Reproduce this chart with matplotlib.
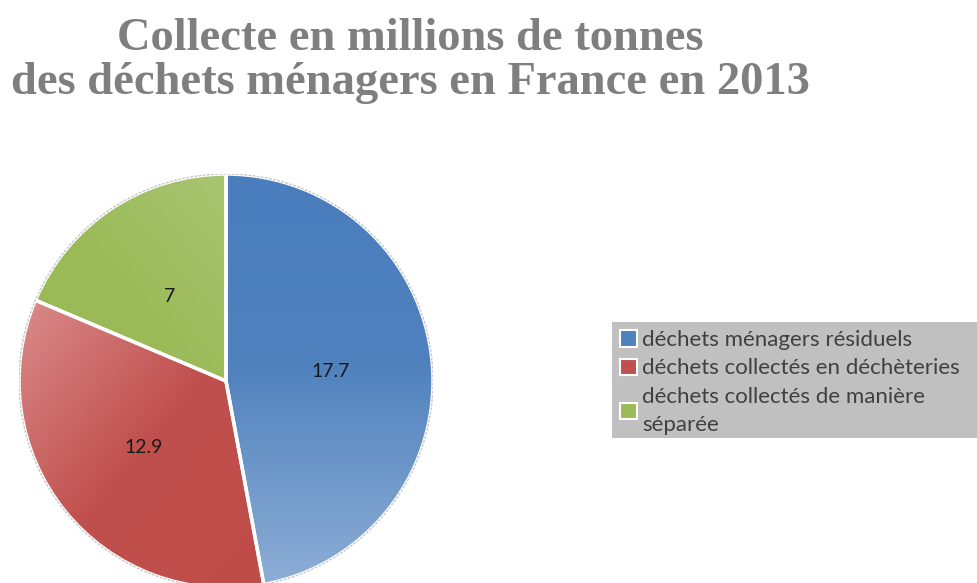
import numpy as np
import matplotlib
matplotlib.use('Agg')
import matplotlib.pyplot as plt
from matplotlib.patches import Rectangle
from matplotlib.colors import LinearSegmentedColormap

# data
categories = ['déchets ménagers résiduels',
              'déchets collectés en déchèteries',
              'déchets collectés de manière\nséparée']
values = [17.7, 12.9, 7]
title = 'Collecte en millions de tonnes\ndes déchets ménagers en France en 2013'

colors = ['#4f81bd', '#c0504d', '#9bbb59']
# (start colour, mid colour, end colour, gradient direction in degrees)
gradients = [('#4a7dbd', '#4f81bd', '#8eaed6', -90),
             ('#d98a8a', '#c0504d', '#bf4b48', -40),
             ('#97b854', '#9bbb59', '#afc97c', 40)]
label_dist = [0.51, 0.51, 0.49]

W, H = 978, 583
fig = plt.figure(figsize=(W / 100, H / 100), dpi=100)
fig.patch.set_facecolor('white')

fig.text(410 / W, 1 - 61 / H, title, ha='center', va='center',
         fontsize=33.5, fontweight='bold', color='#7f7f7f',
         family='Liberation Serif', linespacing=1.08)

# pie axes, centre (226, 380) px, radius 207 px
cx, cy, r = 226, 381, 207
ax = fig.add_axes([(cx - r) / W, (H - cy - r) / H, 2 * r / W, 2 * r / H])
wedges, texts, autotexts = ax.pie(values, colors=colors, startangle=90,
                                  counterclock=False, autopct='%1.1f',
                                  pctdistance=0.5,
                                  wedgeprops=dict(edgecolor='white',
                                                  linewidth=2.5))
ax.set_xlim(-1, 1)
ax.set_ylim(-1, 1)
ax.set_aspect('equal')

# gradient fill clipped to each wedge
yy, xx = np.mgrid[-1:1:300j, -1:1:300j]
for w, (c0, cm, c1, ang) in zip(wedges, gradients):
    a = np.deg2rad(ang)
    t = (xx * np.cos(a) + yy * np.sin(a) + 1) / 2
    cmap = LinearSegmentedColormap.from_list('g', [(0, c0), (0.45, cm),
                                                   (1, c1)])
    im = ax.imshow(t, cmap=cmap, extent=(-1, 1, -1, 1), origin='lower',
                   vmin=0, vmax=1, zorder=2)
    im.set_clip_path(w)

for w in wedges:
    w.set_facecolor('none')
    w.set_zorder(3)

for t, v, w, d in zip(autotexts, values, wedges, label_dist):
    mid = np.deg2rad((w.theta1 + w.theta2) / 2)
    t.set_text(f'{v:g}')
    t.set_position((d * np.cos(mid), d * np.sin(mid)))
    t.set_fontsize(14)
    t.set_color('#1a1a1a')
    t.set_family('Lato')
    t.set_zorder(5)

# outer thin dashed ring
ring = plt.Circle((0, 0), 1.0, fill=False, edgecolor='#c8c8c8',
                  linewidth=1, linestyle=(0, (2, 1)), zorder=4)
ax.add_patch(ring)
ax.set_axis_off()

# legend with grey background
fig.patches.append(Rectangle((612 / W, 1 - 438 / H), (W - 612) / W,
                             116 / H, transform=fig.transFigure,
                             facecolor='#c0c0c0', edgecolor='none'))
handles = [Rectangle((0, 0), 1, 1, facecolor=c, edgecolor='white', lw=1.5)
           for c in colors]
leg = fig.legend(handles, categories, loc='upper left',
                 bbox_to_anchor=(618 / W, 1 - 328 / H), frameon=False,
                 borderaxespad=0, borderpad=0.1, handlelength=0.75,
                 handleheight=0.75, handletextpad=0.25, labelspacing=0.37,
                 prop={'family': 'Lato', 'size': 16},
                 labelcolor='#404040')
for txt in leg.get_texts():
    txt.set_linespacing(1.5)

fig.savefig('out.png', dpi=100)
